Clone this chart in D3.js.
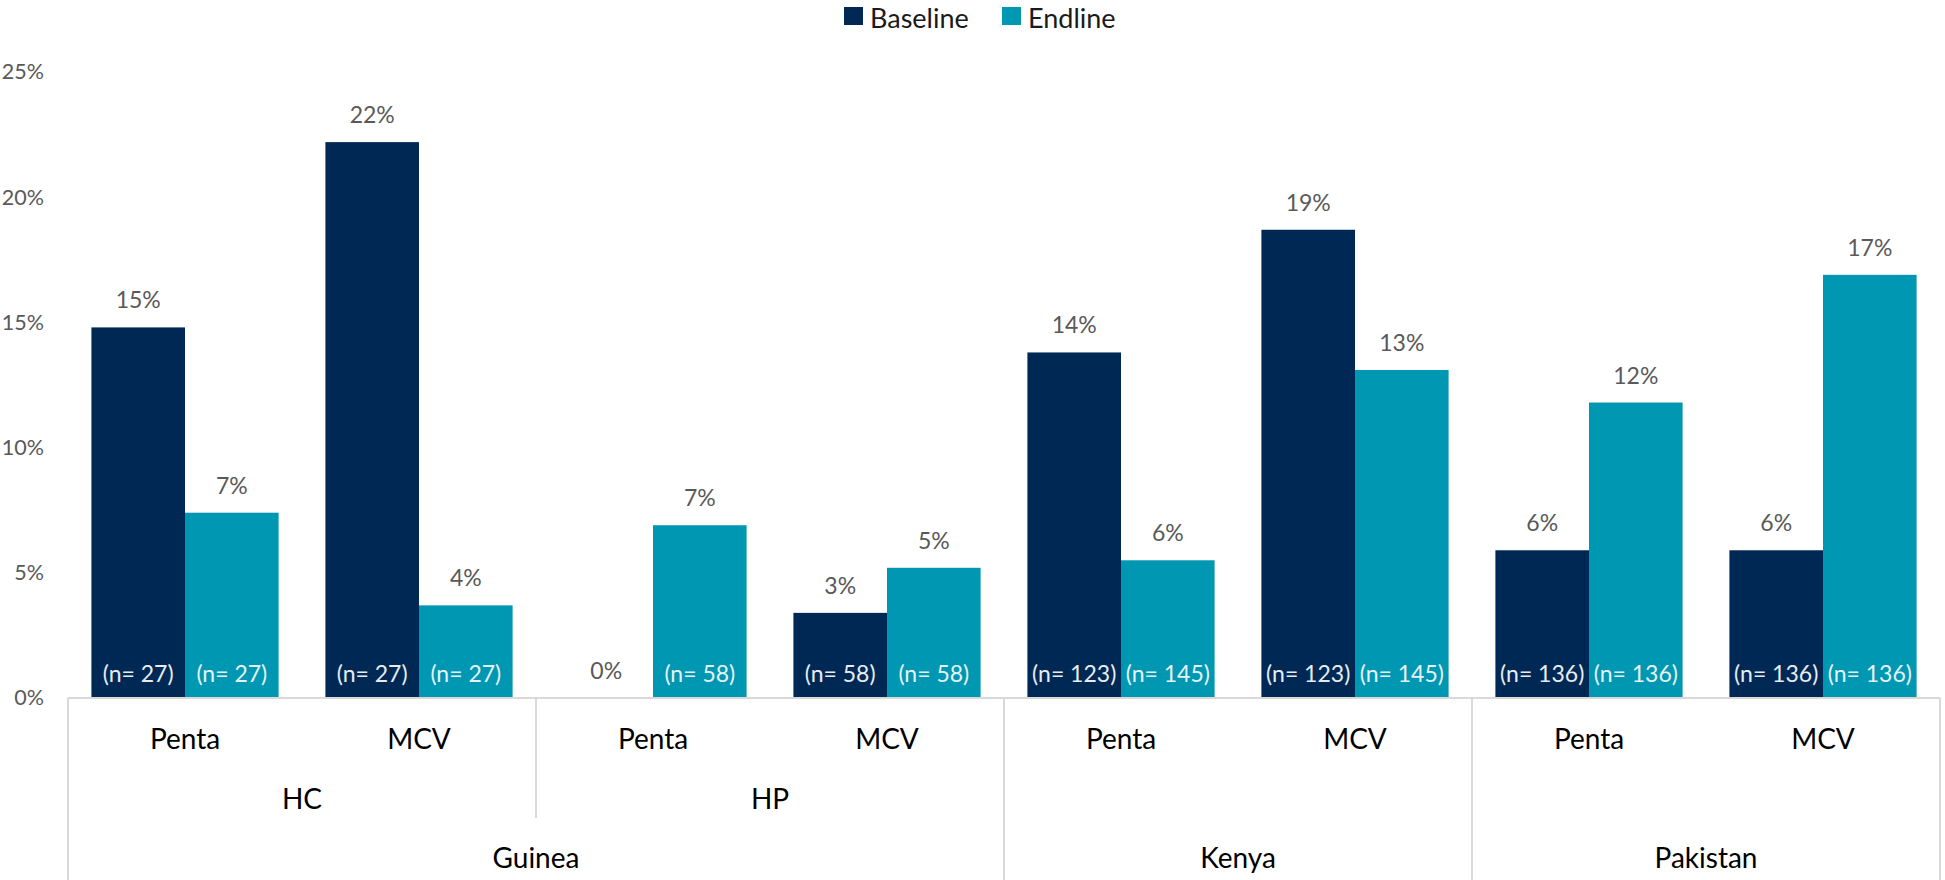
<!DOCTYPE html>
<html>
<head>
<meta charset="utf-8">
<script src="https://cdn.jsdelivr.net/npm/d3@7"></script>
<style>
  html, body { margin: 0; padding: 0; background: #ffffff; }
  svg { display: block; }
  text { font-family: Lato, "Noto Sans", sans-serif; }
</style>
</head>
<body>
<svg id="chart" width="1945" height="880"></svg>
<script>
// ---- data ----
const subcats   = ["Penta", "MCV", "Penta", "MCV", "Penta", "MCV", "Penta", "MCV"];
const sites     = ["HC", "HC", "HP", "HP", "", "", "", ""];
const countries = ["Guinea", "Guinea", "Guinea", "Guinea", "Kenya", "Kenya", "Pakistan", "Pakistan"];
const seriesNames = ["Baseline", "Endline"];
const baseline  = [14.8, 22.2, 0, 3.4, 13.8, 18.7, 5.9, 5.9];
const endline   = [7.4, 3.7, 6.9, 5.2, 5.5, 13.1, 11.8, 16.9];
const baselineN = [27, 27, 58, 58, 123, 123, 136, 136];
const endlineN  = [27, 27, 58, 58, 145, 145, 136, 136];
const yTicks    = [0, 5, 10, 15, 20, 25];
const colors    = ["#002855", "#0097b2"];

// ---- layout ----
const svg = d3.select("#chart");
const W = 1945, H = 880;
const plotLeft = 68, plotRight = 1940, plotTop = 72, plotBottom = 698;

const idx = subcats.map((d, i) => i);
const x0 = d3.scaleBand().domain(idx).range([plotLeft, plotRight]).paddingInner(0).paddingOuter(0);
const x1 = d3.scaleBand().domain(seriesNames).range([0, x0.bandwidth()]).paddingInner(0).paddingOuter(0.25);
const y = d3.scaleLinear().domain([0, 25]).range([plotBottom, plotTop]);
const color = d3.scaleOrdinal().domain(seriesNames).range(colors);

const rows = idx.map(i => ({
  i,
  values: [
    { s: "Baseline", v: baseline[i], n: baselineN[i], nColor: "#e8ecf2" },
    { s: "Endline",  v: endline[i],  n: endlineN[i],  nColor: "#e6f3f6" }
  ]
}));

// y axis (labels only)
const yAxis = d3.axisLeft(y).tickValues(yTicks).tickFormat(d => d + "%").tickSize(0).tickPadding(0);
const gy = svg.append("g").attr("transform", `translate(44,0)`).call(yAxis);
gy.select(".domain").remove();
gy.selectAll("text")
  .attr("fill", "#595959")
  .style("font-size", "21.5px")
  .style("font-family", "Lato, 'Noto Sans', sans-serif");

// bars
const groups = svg.append("g").selectAll("g.grp").data(rows).join("g")
  .attr("class", "grp")
  .attr("transform", d => `translate(${x0(d.i)},0)`);

groups.selectAll("rect").data(d => d.values).join("rect")
  .attr("x", d => x1(d.s))
  .attr("width", x1.bandwidth())
  .attr("y", d => y(d.v))
  .attr("height", d => y(0) - y(d.v))
  .attr("fill", d => color(d.s));

// n labels inside bars (bottom) - only where a bar is drawn
groups.selectAll("text.n").data(d => d.values.filter(v => v.v > 0)).join("text")
  .attr("class", "n")
  .attr("x", d => x1(d.s) + x1.bandwidth() / 2)
  .attr("y", y(0) - 25)
  .attr("dominant-baseline", "central")
  .attr("text-anchor", "middle")
  .attr("fill", d => d.nColor)
  .style("font-size", "23px")
  .text(d => `(n= ${d.n})`);

// value labels above bars
groups.selectAll("text.v").data(d => d.values).join("text")
  .attr("class", "v")
  .attr("x", d => x1(d.s) + x1.bandwidth() / 2)
  .attr("y", d => y(d.v) - 28)
  .attr("dominant-baseline", "central")
  .attr("text-anchor", "middle")
  .attr("fill", "#595959")
  .style("font-size", "23px")
  .text(d => Math.round(d.v) + "%");

// category axis table
const lineColor = "#d9d9d9";
const tbl = svg.append("g");
tbl.append("line")
  .attr("x1", plotLeft).attr("x2", plotRight)
  .attr("y1", plotBottom).attr("y2", plotBottom)
  .attr("stroke", lineColor).attr("stroke-width", 2);

// spans helper
function spans(arr) {
  const out = [];
  arr.forEach((v, i) => {
    const last = out[out.length - 1];
    if (last && last.label === v && countries[i] === countries[last.start]) last.end = i;
    else out.push({ label: v, start: i, end: i });
  });
  return out;
}
const countrySpans = spans(countries);
const siteSpans = spans(sites).filter(s => s.label !== "");

const spanX0 = s => x0(s.start);
const spanX1 = s => x0(s.end) + x0.bandwidth();

// vertical lines: country boundaries full height
const countryEdges = [plotLeft].concat(countrySpans.map(spanX1));
tbl.selectAll("line.cedge").data(countryEdges).join("line")
  .attr("class", "cedge")
  .attr("x1", d => d).attr("x2", d => d)
  .attr("y1", plotBottom).attr("y2", H)
  .attr("stroke", lineColor).attr("stroke-width", 2);

// site boundaries inside a country
const siteEdges = siteSpans.filter(s => spanX1(s) < spanX1(countrySpans.find(c => c.label === countries[s.start]))).map(spanX1);
tbl.selectAll("line.sedge").data(siteEdges).join("line")
  .attr("class", "sedge")
  .attr("x1", d => d).attr("x2", d => d)
  .attr("y1", plotBottom).attr("y2", 818)
  .attr("stroke", lineColor).attr("stroke-width", 2);

// level 1 labels
tbl.selectAll("text.l1").data(idx).join("text")
  .attr("class", "l1")
  .attr("x", i => x0(i) + x0.bandwidth() / 2)
  .attr("y", 738)
  .attr("dominant-baseline", "central")
  .attr("text-anchor", "middle")
  .attr("fill", "#000000")
  .style("font-size", "28px")
  .text(i => subcats[i]);

// level 2 labels
tbl.selectAll("text.l2").data(siteSpans).join("text")
  .attr("class", "l2")
  .attr("x", s => (spanX0(s) + spanX1(s)) / 2)
  .attr("y", 798)
  .attr("dominant-baseline", "central")
  .attr("text-anchor", "middle")
  .attr("fill", "#000000")
  .style("font-size", "28px")
  .text(s => s.label);

// level 3 labels
tbl.selectAll("text.l3").data(countrySpans).join("text")
  .attr("class", "l3")
  .attr("x", s => (spanX0(s) + spanX1(s)) / 2)
  .attr("y", 857)
  .attr("dominant-baseline", "central")
  .attr("text-anchor", "middle")
  .attr("fill", "#000000")
  .style("font-size", "28px")
  .text(s => s.label);

// legend
const legendX = [844, 1002];
const lg = svg.append("g").selectAll("g").data(seriesNames).join("g")
  .attr("transform", (d, i) => `translate(${legendX[i]},0)`);
lg.append("rect").attr("x", 0).attr("y", 7).attr("width", 19).attr("height", 18)
  .attr("fill", d => color(d));
lg.append("text").attr("x", 26).attr("y", 17)
  .attr("dominant-baseline", "central")
  .attr("fill", "#1a1a1a")
  .style("font-size", "27px")
  .text(d => d);
</script>
</body>
</html>
